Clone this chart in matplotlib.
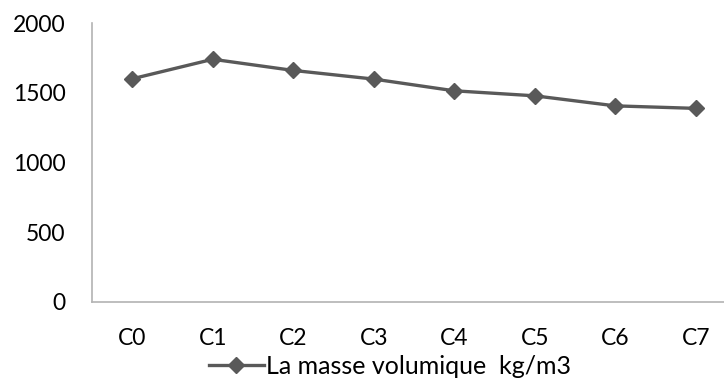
import matplotlib.pyplot as plt

categories = ['C0', 'C1', 'C2', 'C3', 'C4', 'C5', 'C6', 'C7']
masse_volumique = [1600, 1740, 1660, 1598, 1514, 1478, 1406, 1388]
y_ticks = [0, 500, 1000, 1500, 2000]

plt.rcParams['font.family'] = ['Lato', 'DejaVu Sans']

fig = plt.figure(figsize=(7.24, 3.81), dpi=100)
ax = fig.add_axes([92 / 724, 1 - 302 / 381, 644 / 724, 279 / 381])

x = range(len(categories))
ax.plot(x, masse_volumique, color='#595959', linewidth=2.4, marker='D',
        markersize=8, label='La masse volumique  kg/m3')

ax.set_xlim(-0.5, len(categories) - 0.5)
ax.set_ylim(0, 2000)
ax.set_yticks(y_ticks)
ax.set_xticks(list(x))
ax.set_xticklabels(categories)
ax.tick_params(length=0, labelsize=16.5, labelcolor='black')
ax.tick_params(axis='y', pad=19)
ax.tick_params(axis='x', pad=19)

for side in ['top', 'right']:
    ax.spines[side].set_visible(False)
for side in ['left', 'bottom']:
    ax.spines[side].set_color('#b3b3b3')
    ax.spines[side].set_linewidth(1.2)

fig.legend(loc='center', bbox_to_anchor=(390 / 724, 1 - 366 / 381), frameon=False,
           fontsize=18, handlelength=2.2, handletextpad=0.1, labelcolor='black')

fig.savefig('out.png', dpi=100)
